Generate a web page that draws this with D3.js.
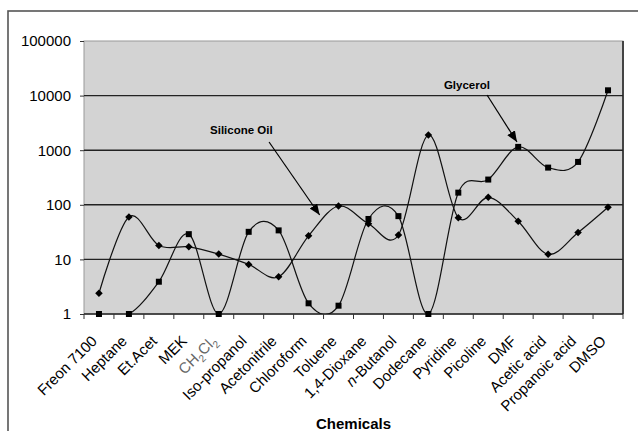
<!DOCTYPE html>
<html>
<head>
<meta charset="utf-8">
<script src="https://cdn.jsdelivr.net/npm/d3@7"></script>
<style>
  html, body { margin: 0; padding: 0; background: #fff; }
  svg { display: block; font-family: Arial, "Liberation Sans", sans-serif; }
</style>
</head>
<body>
<svg id="chart" width="638" height="431"></svg>
<script>
// Solvents along the x axis
const categories = [
  "Freon 7100", "Heptane", "Et.Acet", "MEK", "CH2Cl2", "Iso-propanol",
  "Acetonitrile", "Chloroform", "Toluene", "1,4-Dioxane", "n-Butanol",
  "Dodecane", "Pyridine", "Picoline", "DMF", "Acetic acid",
  "Propanoic acid", "DMSO"
];

// Series values (log scale)
const siliconeOil = [2.4, 60, 18, 17, 12.5, 8.1, 4.8, 27, 95, 45, 28, 1900, 58, 137, 50, 12.4, 31, 90];
const glycerol    = [1, 1, 3.9, 29, 1, 32, 34, 1.57, 1.42, 55, 62, 1, 167, 290, 1150, 480, 610, 12500];

// Y axis tick values
const yTicks = [1, 10, 100, 1000, 10000, 100000];

// Callout labels: x in band units from the left edge, y as a data value
const callouts = [
  { text: "Silicone Oil", label: [4.21, 1980],  from: [6.18, 1413],  to: [7.87, 65] },
  { text: "Glycerol",     label: [12.02, 13200], from: [13.46, 10260], to: [14.46, 1413] }
];

const svg = d3.select("#chart");
const plot = { left: 84, right: 623, top: 41, bottom: 314 };

const x = d3.scaleBand().domain(categories).range([plot.left, plot.right]).padding(0);
const y = d3.scaleLog().domain([1, 100000]).range([plot.bottom, plot.top]);
const cx = d => x(d) + x.bandwidth() / 2;
const bx = u => plot.left + u * x.bandwidth();

// Outer frame
svg.append("rect")
  .attr("x", 8).attr("y", 11).attr("width", 640).attr("height", 430)
  .attr("fill", "none").attr("stroke", "#555").attr("stroke-width", 1.6);

// Plot background
svg.append("rect")
  .attr("x", plot.left).attr("y", plot.top)
  .attr("width", plot.right - plot.left).attr("height", plot.bottom - plot.top)
  .attr("fill", "#d3d3d3").attr("stroke", "#9a9a9a").attr("stroke-width", 1);
svg.append("line")
  .attr("x1", plot.right).attr("x2", plot.right)
  .attr("y1", plot.top).attr("y2", plot.bottom)
  .attr("stroke", "#444").attr("stroke-width", 2);

// Horizontal gridlines
svg.append("g").selectAll("line")
  .data(yTicks.filter(v => v > 1 && v < 100000))
  .join("line")
  .attr("x1", plot.left).attr("x2", plot.right)
  .attr("y1", d => y(d)).attr("y2", d => y(d))
  .attr("stroke", "#222").attr("stroke-width", 1.4);

// Y axis
const yAxis = svg.append("g")
  .attr("transform", `translate(${plot.left},0)`)
  .call(d3.axisLeft(y).tickValues(yTicks).tickFormat(d3.format("d")).tickSize(4).tickPadding(9));
yAxis.select(".domain").remove();
yAxis.selectAll(".tick line").attr("stroke", "#333");
yAxis.selectAll(".tick text").attr("font-size", 15).attr("fill", "#000")
  .attr("font-family", "Arial, 'Liberation Sans', sans-serif");

// X axis: ticks at category boundaries
const xg = svg.append("g");
xg.append("line")
  .attr("x1", plot.left).attr("x2", plot.right)
  .attr("y1", plot.bottom).attr("y2", plot.bottom)
  .attr("stroke", "#222").attr("stroke-width", 1.4);
const edges = categories.map(c => x(c)).concat([plot.right]);
xg.selectAll("line.tk").data(edges).join("line").attr("class", "tk")
  .attr("x1", d => d).attr("x2", d => d)
  .attr("y1", plot.bottom).attr("y2", plot.bottom + 5)
  .attr("stroke", "#333").attr("stroke-width", 1);

// Rotated category labels
const labels = xg.selectAll("text.cat").data(categories).join("text").attr("class", "cat")
  .attr("transform", d => `translate(${cx(d) - 1},${plot.bottom + 28}) rotate(-45)`)
  .attr("text-anchor", "end")
  .attr("font-size", 15)
  .attr("fill", "#000");
labels.each(function(d) {
  const t = d3.select(this);
  if (d === "CH2Cl2") {
    t.attr("fill", "#666");
    t.append("tspan").text("CH");
    t.append("tspan").text("2").attr("font-size", 10).attr("dy", 4);
    t.append("tspan").text("Cl").attr("dy", -4);
    t.append("tspan").text("2").attr("font-size", 10).attr("dy", 4);
    t.append("tspan").text("\u200B").attr("dy", -4);
  } else if (d === "n-Butanol") {
    t.append("tspan").text("n").attr("font-style", "italic");
    t.append("tspan").text("-Butanol");
  } else {
    t.text(d);
  }
});

// Axis title
svg.append("text")
  .attr("x", (plot.left + plot.right) / 2).attr("y", 429)
  .attr("text-anchor", "middle")
  .attr("font-size", 15).attr("font-weight", "bold")
  .text("Chemicals");

// Clip series to the plot area
svg.append("clipPath").attr("id", "plotClip")
  .append("rect")
  .attr("x", plot.left).attr("y", plot.top)
  .attr("width", plot.right - plot.left).attr("height", plot.bottom - plot.top);

const line = d3.line()
  .x((d, i) => cx(categories[i]))
  .y(d => y(d))
  .curve(d3.curveCatmullRom.alpha(0));

const series = svg.append("g").attr("clip-path", "url(#plotClip)");
[siliconeOil, glycerol].forEach(vals => {
  series.append("path")
    .datum(vals)
    .attr("d", line)
    .attr("fill", "none")
    .attr("stroke", "#111")
    .attr("stroke-width", 1.2);
});

// Markers: diamonds for silicone oil, squares for glycerol
const markers = svg.append("g");
markers.selectAll("path.dia").data(siliconeOil).join("path").attr("class", "dia")
  .attr("d", d3.symbol(d3.symbolDiamond2, 36))
  .attr("transform", (d, i) => `translate(${cx(categories[i])},${y(d)})`)
  .attr("fill", "#000");
markers.selectAll("rect.sq").data(glycerol).join("rect").attr("class", "sq")
  .attr("x", (d, i) => cx(categories[i]) - 3)
  .attr("y", d => y(d) - 3)
  .attr("width", 6).attr("height", 6)
  .attr("fill", "#000");

// Callouts with arrows
svg.append("defs").append("marker")
  .attr("id", "arrowHead")
  .attr("markerUnits", "userSpaceOnUse")
  .attr("markerWidth", 12).attr("markerHeight", 10)
  .attr("refX", 11).attr("refY", 4.5)
  .attr("orient", "auto")
  .append("path").attr("d", "M0,0 L11,4.5 L0,9 Z").attr("fill", "#000");

const cg = svg.append("g");
callouts.forEach(c => {
  cg.append("text")
    .attr("x", bx(c.label[0])).attr("y", y(c.label[1]))
    .attr("font-size", 11.5).attr("font-weight", "bold")
    .text(c.text);
  cg.append("line")
    .attr("x1", bx(c.from[0])).attr("y1", y(c.from[1]))
    .attr("x2", bx(c.to[0])).attr("y2", y(c.to[1]))
    .attr("stroke", "#000").attr("stroke-width", 1.2)
    .attr("marker-end", "url(#arrowHead)");
});
</script>
</body>
</html>
